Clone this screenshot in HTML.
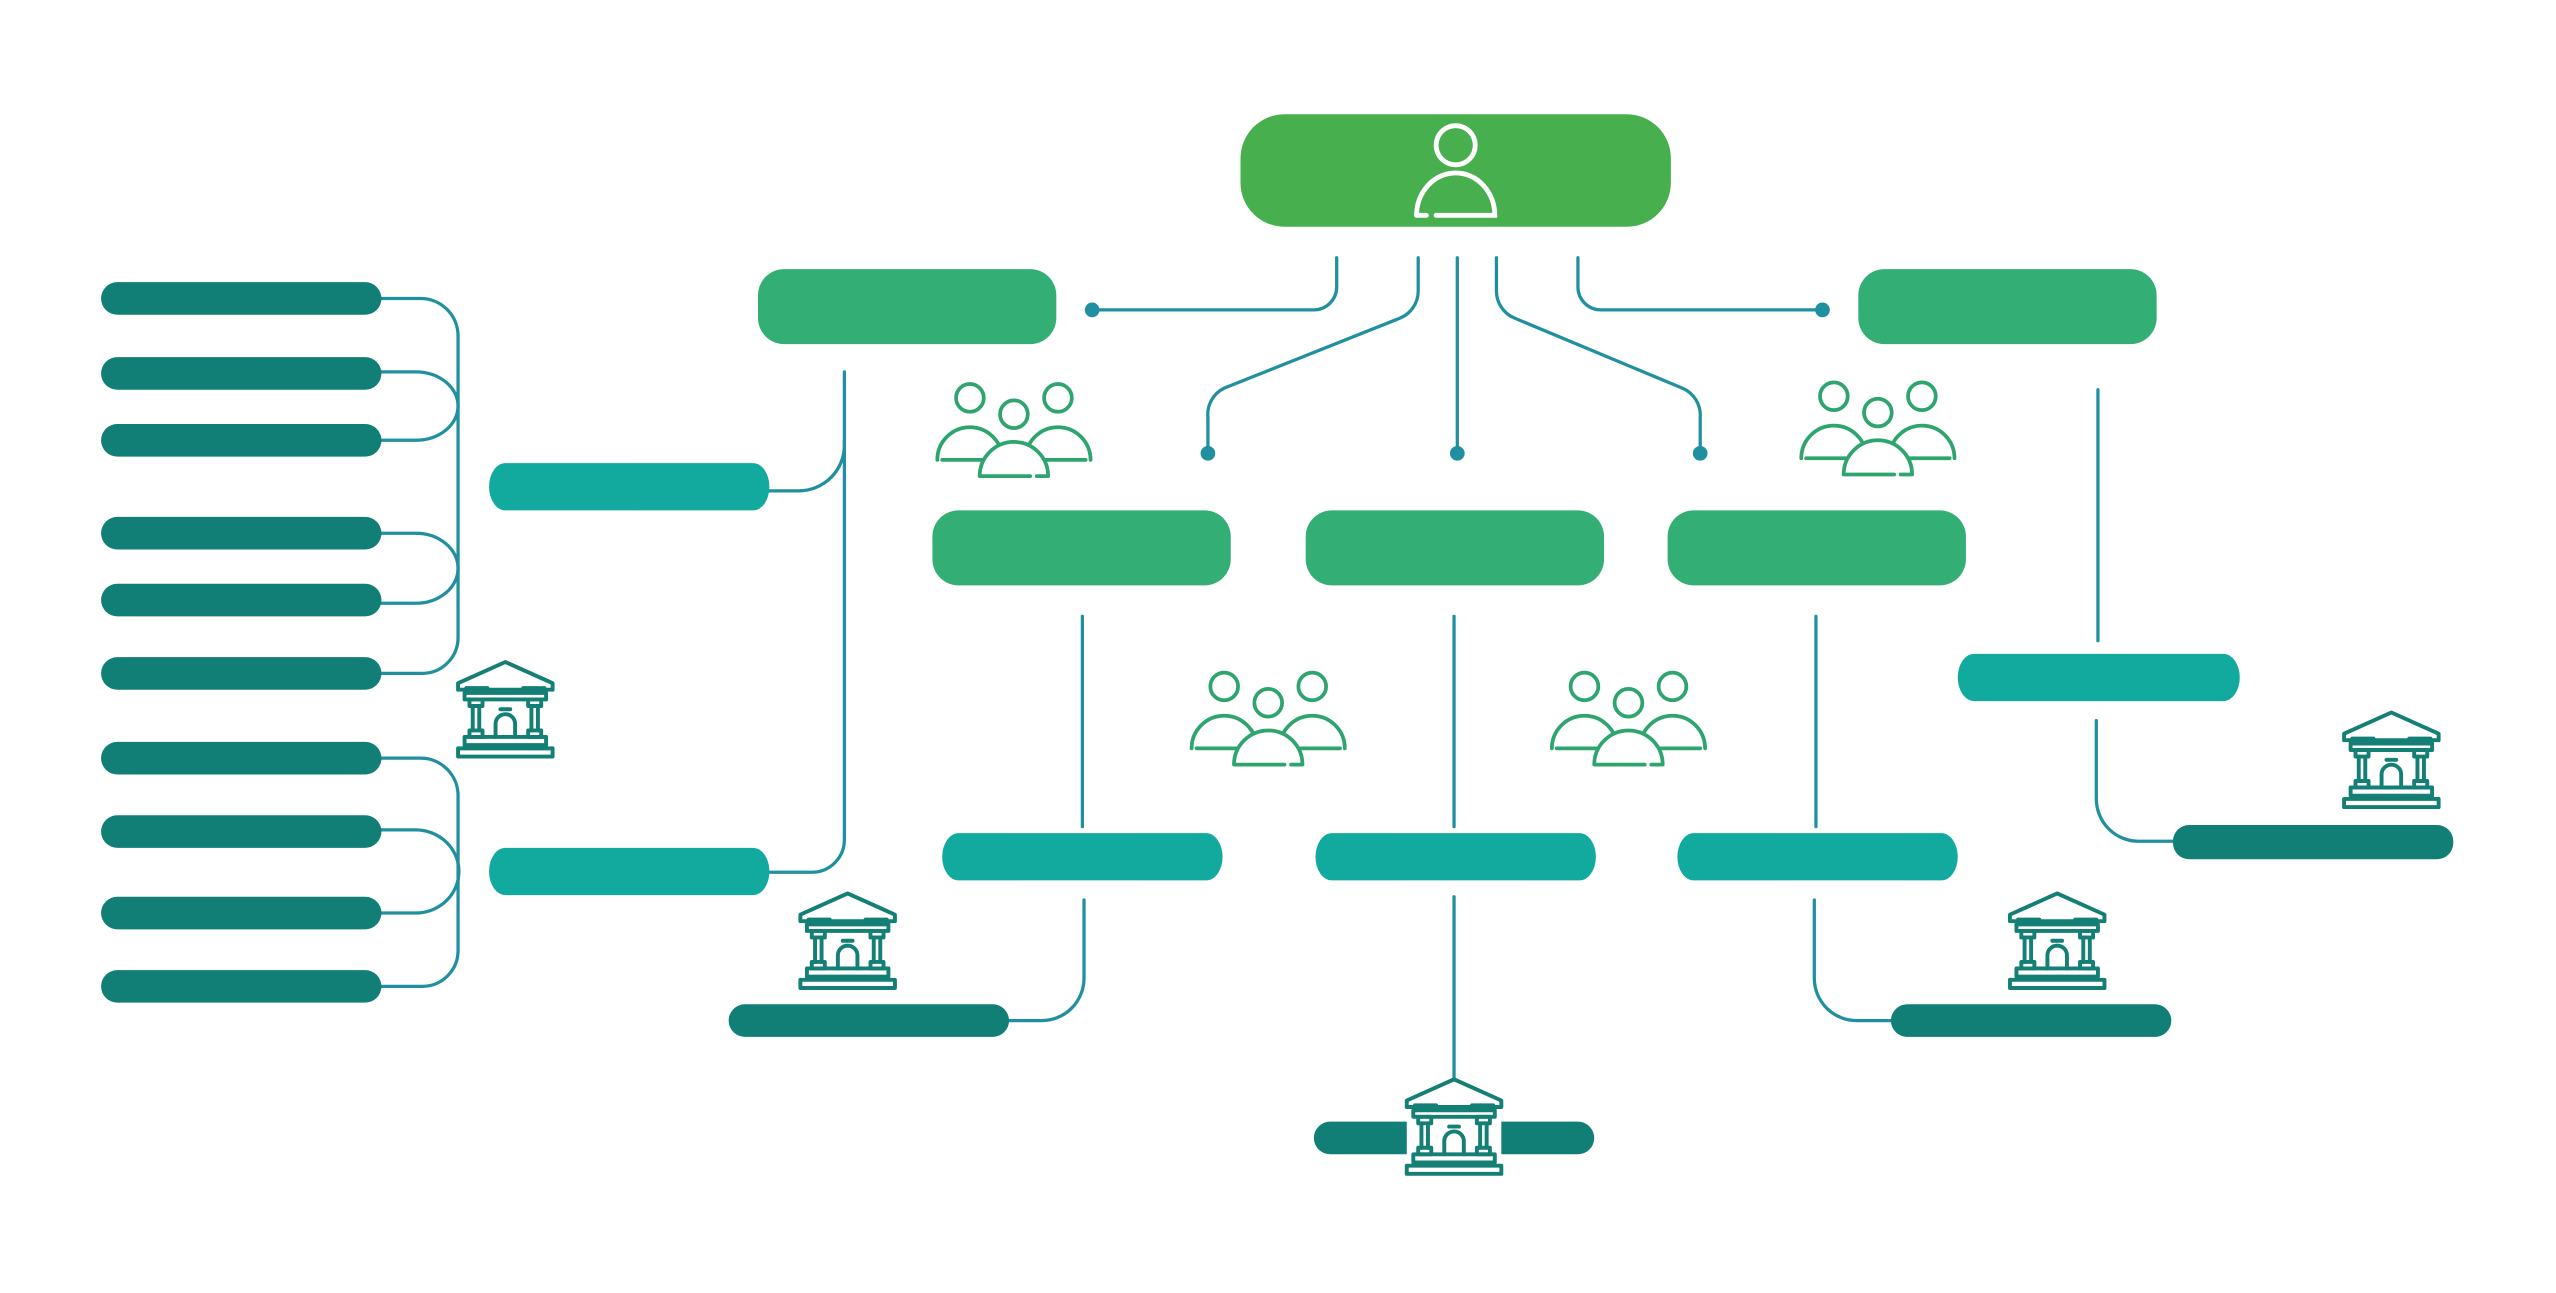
<!DOCTYPE html>
<html><head><meta charset="utf-8"><style>html,body{margin:0;padding:0;background:#fff}svg{display:block}</style></head>
<body>
<svg width="2556" height="1293" viewBox="0 0 1568 793" xmlns="http://www.w3.org/2000/svg">
<defs>
<g id="bld" fill="none" stroke="#137f75" stroke-width="2.4" stroke-linejoin="round" stroke-linecap="round">
<path d="M-29,13 L0,0 L29,13 L29,17 L-29,17 Z"/>
<path d="M-24,16 H-11 M11,16 H24"/>
<rect x="-25" y="19" width="50" height="4"/>
<rect x="-22" y="23" width="8" height="4"/><rect x="14" y="23" width="8" height="4"/>
<path d="M-20,27 V42 M-16,27 V42 M16,27 V42 M20,27 V42"/>
<rect x="-22" y="42" width="8" height="4"/><rect x="14" y="42" width="8" height="4"/>
<path d="M-3,29 H3"/>
<path d="M-6,46 V38 A6,6 0 0 1 6,38 V46"/>
<rect x="-25" y="46" width="50" height="5"/>
<rect x="-29" y="53" width="58" height="5"/>
</g>
<g id="ppl" stroke="#2ea56e" stroke-width="2.3" stroke-linecap="round">
<circle cx="-27" cy="-23" r="8.5" fill="none"/>
<circle cx="27" cy="-23" r="8.5" fill="none"/>
<path d="M-47,15 A20,20 0 0 1 -7,15 M-44,15 H-10" fill="none"/>
<path d="M7,15 A20,20 0 0 1 47,15 M10,15 H44" fill="none"/>
<circle cx="0" cy="-13" r="8.5" fill="#fff"/>
<path d="M-21,25 A21,21 0 0 1 21,25 Z" fill="#fff" stroke="none"/>
<path d="M-21,25 A21,21 0 0 1 21,25 M-21,25 H10 M14,25 H21" fill="none"/>
</g>
</defs>

<rect x="761" y="70" width="264" height="69" rx="27" fill="#47af4d"/>
<g fill="none" stroke="#fff" stroke-width="3" stroke-linecap="round">
<circle cx="893" cy="89" r="12"/>
<path d="M869,132 A24,26 0 0 1 917,132 H881 M875,132 H869"/>
</g>

<g fill="none" stroke="#2090a0" stroke-width="2" stroke-linecap="round">
<path d="M820,158 V176 A14,14 0 0 1 806,190 H670"/>
<path d="M870,158 V178 A18,18 0 0 1 859,195 L751,238 A18,18 0 0 0 741,256 V278"/>
<path d="M894,158 V278"/>
<path d="M918,158 V178 A18,18 0 0 0 929,195 L1032,238 A18,18 0 0 1 1043,256 V278"/>
<path d="M968,158 V176 A14,14 0 0 0 982,190 H1118"/>
<path d="M664,378 V507 M892,378 V507 M1114,378 V507"/>
<path d="M665,552 V600 A26,26 0 0 1 639,626 H615"/>
<path d="M892,550 V690"/>
<path d="M1113,552 V600 A26,26 0 0 0 1139,626 H1163"/>
<path d="M1287,239 V393"/>
<path d="M1286,442 V490 A26,26 0 0 0 1312,516 H1336"/>
<path d="M470,301 H490 A28,28 0 0 0 518,273 V228"/>
<path d="M518,270 V515 A20,20 0 0 1 498,535 H470"/>
<path d="M232,183 H258 A23,23 0 0 1 281,206 V391 A22,22 0 0 1 259,413 H232"/>
<path d="M232,228 H255 A26,21 0 0 1 255,270 H232"/>
<path d="M232,327 H255 A26,21.5 0 0 1 255,370 H232"/>
<path d="M232,465 H258 A23,23 0 0 1 281,488 V583 A22,22 0 0 1 259,605 H232"/>
<path d="M232,509 H255 A26,25 0 0 1 255,560 H232"/>
</g>
<g fill="#2090a0">
<circle cx="670" cy="190" r="4.5"/><circle cx="1118" cy="190" r="4.5"/>
<circle cx="741" cy="278" r="4.5"/><circle cx="894" cy="278" r="4.5"/><circle cx="1043" cy="278" r="4.5"/>
</g>

<g fill="#33ae74">
<rect x="465" y="165" width="183" height="46" rx="16"/>
<rect x="1140" y="165" width="183" height="46" rx="16"/>
<rect x="572" y="313" width="183" height="46" rx="16"/>
<rect x="801" y="313" width="183" height="46" rx="16"/>
<rect x="1023" y="313" width="183" height="46" rx="16"/>
</g>

<g fill="#12aa9f">
<rect x="300" y="284" width="172" height="29" rx="10" ry="14.5"/>
<rect x="300" y="520" width="172" height="29" rx="10" ry="14.5"/>
<rect x="578" y="511" width="172" height="29" rx="10" ry="14.5"/>
<rect x="807" y="511" width="172" height="29" rx="10" ry="14.5"/>
<rect x="1029" y="511" width="172" height="29" rx="10" ry="14.5"/>
<rect x="1201" y="401" width="173" height="29" rx="10" ry="14.5"/>
</g>

<g fill="#117f76">
<rect x="62" y="173" width="172" height="20" rx="10"/>
<rect x="62" y="219" width="172" height="20" rx="10"/>
<rect x="62" y="260" width="172" height="20" rx="10"/>
<rect x="62" y="317" width="172" height="20" rx="10"/>
<rect x="62" y="358" width="172" height="20" rx="10"/>
<rect x="62" y="403" width="172" height="20" rx="10"/>
<rect x="62" y="455" width="172" height="20" rx="10"/>
<rect x="62" y="500" width="172" height="20" rx="10"/>
<rect x="62" y="550" width="172" height="20" rx="10"/>
<rect x="62" y="595" width="172" height="20" rx="10"/>
<rect x="447" y="616" width="172" height="20" rx="10"/>
<rect x="806" y="688" width="172" height="20" rx="10"/>
<rect x="1160" y="616" width="172" height="20" rx="10"/>
<rect x="1333" y="506" width="172" height="21" rx="10"/>
</g>

<rect x="863" y="662" width="58" height="60" fill="#fff"/>
<use href="#bld" x="310" y="406"/>
<use href="#bld" x="520" y="548"/>
<use href="#bld" x="892" y="662"/>
<use href="#bld" x="1262" y="548"/>
<use href="#bld" x="1467" y="437"/>

<use href="#ppl" x="622" y="267"/>
<use href="#ppl" x="1152" y="266"/>
<use href="#ppl" x="778" y="444"/>
<use href="#ppl" x="999" y="444"/>
</svg>
</body></html>
